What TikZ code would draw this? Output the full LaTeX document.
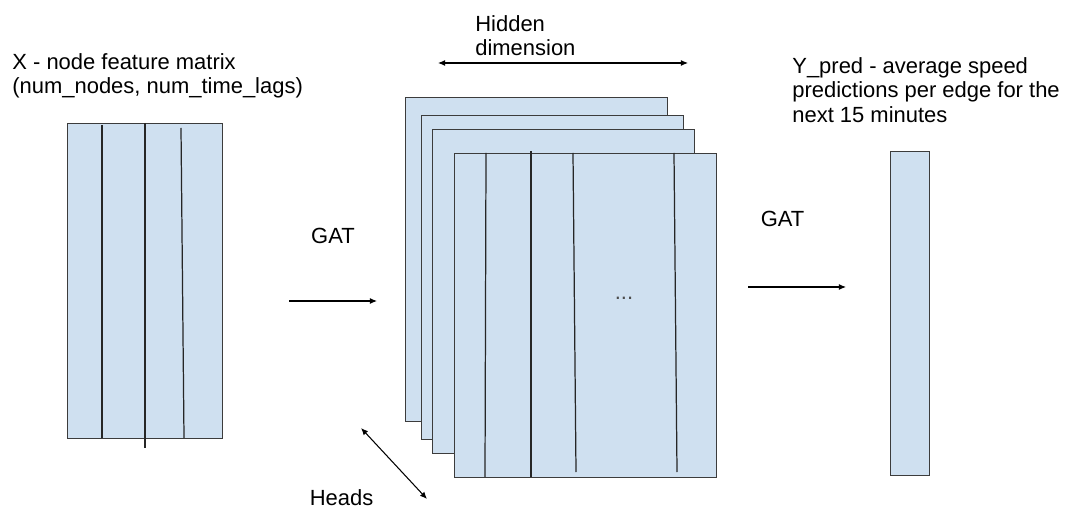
\documentclass[tikz,border=0pt]{standalone}
\usepackage{fontspec}
\setmainfont{Liberation Sans}
\usetikzlibrary{arrows.meta}
\definecolor{cellblue}{RGB}{207,224,240}
\definecolor{edgegray}{RGB}{60,60,60}

\begin{document}
\begin{tikzpicture}[x=0.02cm, y=-0.02cm,
  mat/.style={draw=edgegray, fill=cellblue, line width=0.8pt, inner sep=0pt, anchor=north west, minimum height=6.48cm},
  lbl/.style={inner sep=0pt, align=left, font=\fontsize{12.5}{14}\selectfont},
  col/.style={line width=0.7pt, black!85},
  arr/.style={line width=0.6pt, -{Latex[length=4pt,width=3.4pt]}},
  darr/.style={line width=0.6pt, {Latex[length=4pt,width=3.4pt]}-{Latex[length=4pt,width=3.4pt]}}]
\useasboundingbox (0,0) rectangle (1070,509);

\node[lbl, anchor=north west] (xlabel) at (12,53) {X - node feature matrix\\(num\_nodes, num\_time\_lags)};
\node[mat, minimum width=3.1cm, minimum height=6.3cm] (xmat) at (67,123) {};
\draw[col] (102,125) -- (102,438);
\draw[col] (145,123) -- (145,448);
\draw[col] (181,128) -- (184,438);

\node[lbl] (gat1) at (333,235.5) {GAT};
\coordinate (in1) at (289,301);
\coordinate (out1) at (377,301);
\draw[arr] (in1) -- (out1);

\node[lbl, anchor=north west] (hidlabel) at (475,15) {Hidden\\dimension};
\coordinate (hl) at (438,63);
\coordinate (hr) at (688,63);
\draw[darr] (hl) -- (hr);

\node[mat, minimum width=5.24cm] (head1) at (405,97) {};
\node[mat, minimum width=5.24cm] (head2) at (421,115) {};
\node[mat, minimum width=5.24cm] (head3) at (432,129) {};
\node[mat, minimum width=5.24cm] (head4) at (454,153) {};
\draw[col] (486,153) -- (485,477);
\draw[col] (531,151) -- (531,477);
\draw[col] (573,153) -- (576,472);
\draw[col] (674,153) -- (677,472);
\node[lbl, anchor=base, text=black!70] (dots) at (624,300) {...};

\coordinate (ht) at (361,428);
\coordinate (hb) at (427,499);
\draw[darr] (ht) -- (hb);
\node[lbl] (heads) at (341.5,497.5) {Heads};

\node[lbl] (gat2) at (782.5,218.5) {GAT};
\coordinate (in2) at (748,287);
\coordinate (out2) at (846,287);
\draw[arr] (in2) -- (out2);

\node[lbl, anchor=north west] (ylabel) at (792,57) {Y\_pred - average speed\\predictions per edge for the\\next 15 minutes};
\node[mat, minimum width=0.78cm] (ymat) at (890,151) {};

\end{tikzpicture}
\end{document}
